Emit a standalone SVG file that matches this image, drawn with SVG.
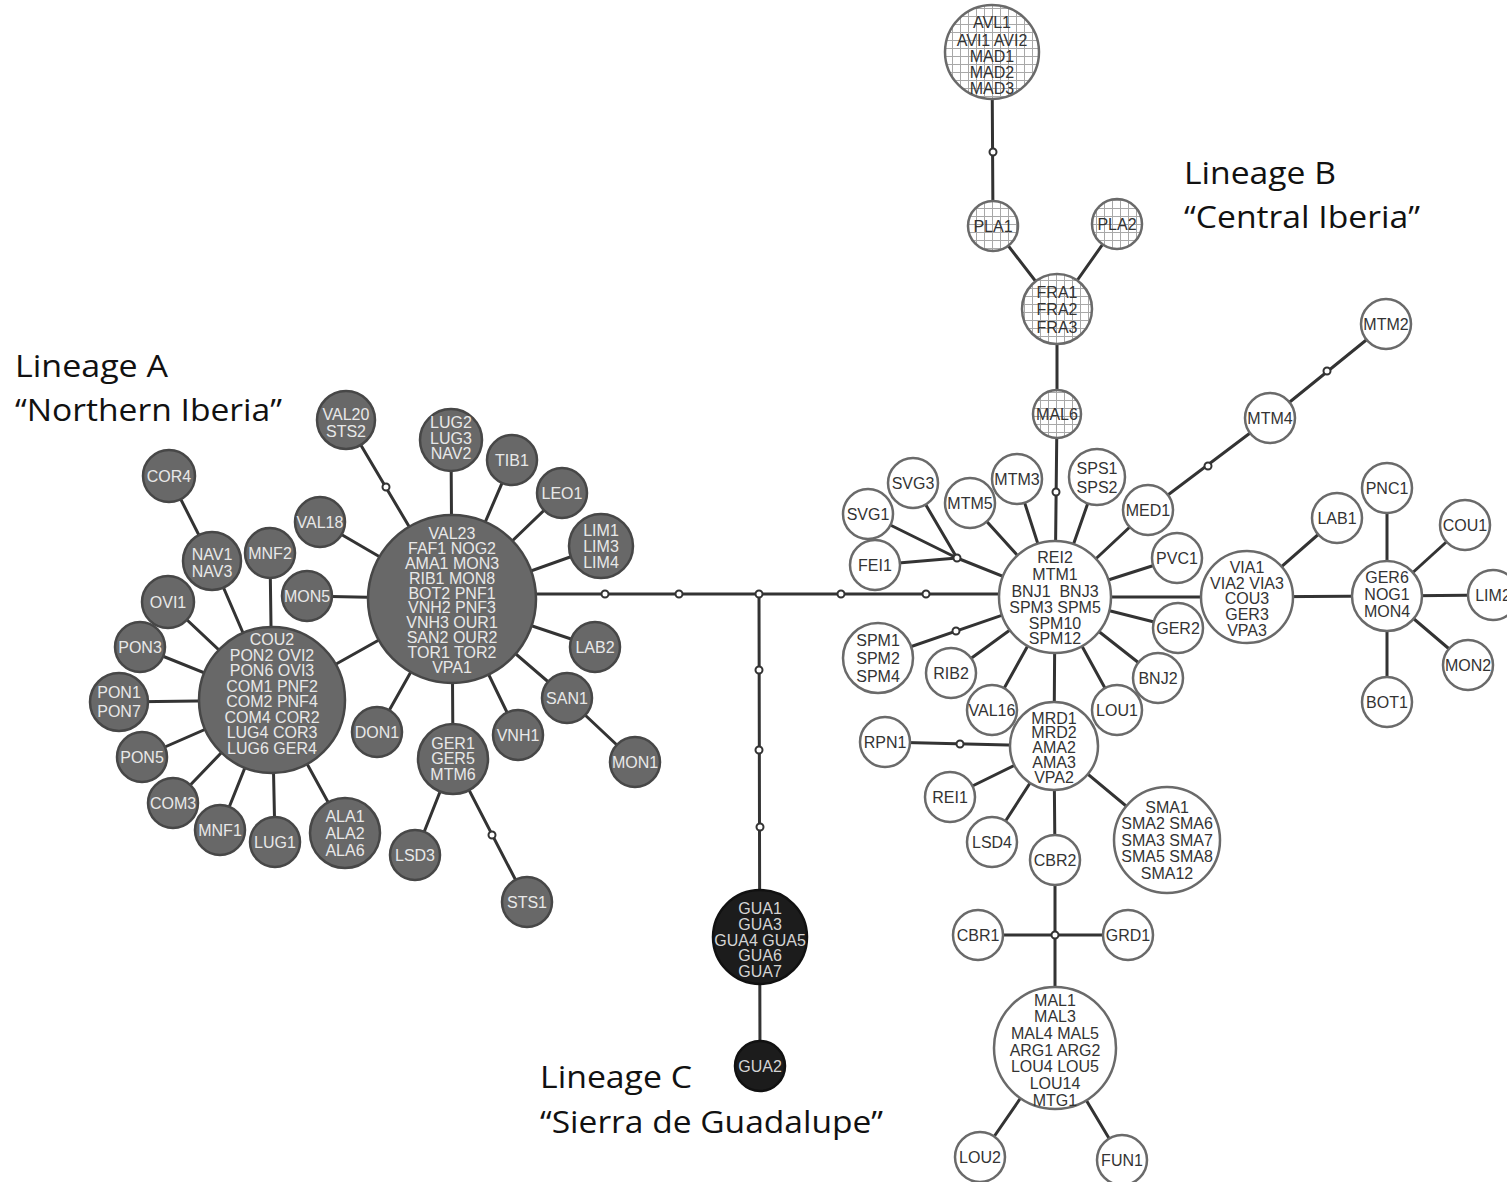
<svg xmlns="http://www.w3.org/2000/svg" width="1507" height="1182" viewBox="0 0 1507 1182">
<defs>
<pattern id="grid" width="8" height="8" patternUnits="userSpaceOnUse" x="0" y="0">
<rect width="8" height="8" fill="#fff"/>
<path d="M0 0.5H8M0.5 0V8" stroke="#a8a8a8" stroke-width="1" fill="none"/>
</pattern>
</defs>
<style>
.edges line{stroke:#333;stroke-width:3;stroke-linecap:round}
.med circle{fill:#fff;stroke:#333;stroke-width:2}
text{font-family:"Liberation Sans",Arial,sans-serif;font-size:16px;text-anchor:middle}
.a circle{fill:#686868;stroke:#474747;stroke-width:2.5}
.a text{fill:#e8e8e8}
.b circle{fill:#fff;stroke:#6a6a6a;stroke-width:2.5}
.b text{fill:#333}
.g circle{fill:url(#grid);stroke:#6a6a6a;stroke-width:2.5}
.g text{fill:#333}
.c circle{fill:#1c1c1c;stroke:#111;stroke-width:2.5}
.c text{fill:#d4d4d4}
.lab text{font-family:"Open Sans","Noto Sans",sans-serif;font-size:31px;text-anchor:start;fill:#111}
</style>
<rect width="1507" height="1182" fill="#fff"/>
<g id="connectors" class="edges">
<line x1="452" y1="599" x2="272" y2="700"/>
<line x1="452" y1="599" x2="346" y2="420"/>
<line x1="452" y1="599" x2="320" y2="522"/>
<line x1="452" y1="599" x2="307" y2="596"/>
<line x1="452" y1="599" x2="451" y2="440"/>
<line x1="452" y1="599" x2="512" y2="460"/>
<line x1="452" y1="599" x2="562" y2="493"/>
<line x1="452" y1="599" x2="601" y2="546"/>
<line x1="452" y1="599" x2="595" y2="647"/>
<line x1="452" y1="599" x2="567" y2="698"/>
<line x1="567" y1="698" x2="635" y2="762"/>
<line x1="452" y1="599" x2="518" y2="735"/>
<line x1="452" y1="599" x2="453" y2="759"/>
<line x1="452" y1="599" x2="377" y2="732"/>
<line x1="453" y1="759" x2="415" y2="855"/>
<line x1="453" y1="759" x2="527" y2="902"/>
<line x1="272" y1="700" x2="212" y2="561"/>
<line x1="212" y1="561" x2="169" y2="476"/>
<line x1="272" y1="700" x2="270" y2="553"/>
<line x1="272" y1="700" x2="168" y2="602"/>
<line x1="272" y1="700" x2="140" y2="647"/>
<line x1="272" y1="700" x2="119" y2="702"/>
<line x1="272" y1="700" x2="142" y2="757"/>
<line x1="272" y1="700" x2="173" y2="803"/>
<line x1="272" y1="700" x2="220" y2="830"/>
<line x1="272" y1="700" x2="275" y2="842"/>
<line x1="272" y1="700" x2="345" y2="833"/>
<line x1="452" y1="594" x2="1055" y2="594"/>
<line x1="759" y1="594" x2="760" y2="1066"/>
<line x1="992" y1="52" x2="993" y2="226"/>
<line x1="993" y1="226" x2="1057" y2="309"/>
<line x1="1117" y1="224" x2="1057" y2="309"/>
<line x1="1057" y1="309" x2="1057" y2="414"/>
<line x1="1057" y1="414" x2="1055" y2="597"/>
<line x1="1055" y1="597" x2="1097" y2="477"/>
<line x1="1055" y1="597" x2="1017" y2="479"/>
<line x1="1055" y1="597" x2="970" y2="503"/>
<line x1="1055" y1="597" x2="957" y2="558"/>
<line x1="957" y1="558" x2="868" y2="514"/>
<line x1="957" y1="558" x2="913" y2="483"/>
<line x1="957" y1="558" x2="875" y2="565"/>
<line x1="1055" y1="597" x2="878" y2="658"/>
<line x1="1055" y1="597" x2="951" y2="673"/>
<line x1="1055" y1="597" x2="992" y2="710"/>
<line x1="1055" y1="597" x2="1054" y2="746"/>
<line x1="1055" y1="597" x2="1117" y2="710"/>
<line x1="1055" y1="597" x2="1158" y2="678"/>
<line x1="1055" y1="597" x2="1178" y2="628"/>
<line x1="1055" y1="597" x2="1247" y2="597"/>
<line x1="1055" y1="597" x2="1177" y2="558"/>
<line x1="1055" y1="597" x2="1148" y2="510"/>
<line x1="1148" y1="510" x2="1270" y2="418"/>
<line x1="1270" y1="418" x2="1386" y2="324"/>
<line x1="1247" y1="597" x2="1337" y2="518"/>
<line x1="1247" y1="597" x2="1387" y2="596"/>
<line x1="1387" y1="596" x2="1387" y2="488"/>
<line x1="1387" y1="596" x2="1465" y2="525"/>
<line x1="1387" y1="596" x2="1493" y2="595"/>
<line x1="1387" y1="596" x2="1468" y2="665"/>
<line x1="1387" y1="596" x2="1387" y2="702"/>
<line x1="1054" y1="746" x2="885" y2="742"/>
<line x1="1054" y1="746" x2="950" y2="797"/>
<line x1="1054" y1="746" x2="992" y2="842"/>
<line x1="1054" y1="746" x2="1055" y2="860"/>
<line x1="1054" y1="746" x2="1167" y2="840"/>
<line x1="1055" y1="860" x2="1055" y2="1048"/>
<line x1="978" y1="935" x2="1128" y2="935"/>
<line x1="1055" y1="1048" x2="980" y2="1157"/>
<line x1="1055" y1="1048" x2="1122" y2="1160"/>
</g>
<g id="medians" class="med">
<circle cx="386" cy="487" r="3.5"/>
<circle cx="492" cy="835" r="3.5"/>
<circle cx="605" cy="594" r="3.5"/>
<circle cx="679" cy="594" r="3.5"/>
<circle cx="759" cy="594" r="3.5"/>
<circle cx="841" cy="594" r="3.5"/>
<circle cx="926" cy="594" r="3.5"/>
<circle cx="759" cy="670" r="3.5"/>
<circle cx="759" cy="750" r="3.5"/>
<circle cx="760" cy="827" r="3.5"/>
<circle cx="993" cy="152" r="3.5"/>
<circle cx="1056" cy="492" r="3.5"/>
<circle cx="957" cy="558" r="3.5"/>
<circle cx="956" cy="631" r="3.5"/>
<circle cx="1208" cy="466" r="3.5"/>
<circle cx="1327" cy="371" r="3.5"/>
<circle cx="960" cy="744" r="3.5"/>
<circle cx="1055" cy="935" r="3.5"/>
</g>
<!-- Lineage A -->
<g id="n-VAL23" class="a"><circle cx="452" cy="599" r="84"/><text><tspan x="452" y="539">VAL23</tspan><tspan x="452" y="554">FAF1  NOG2</tspan><tspan x="452" y="569">AMA1 MON3</tspan><tspan x="452" y="584">RIB1  MON8</tspan><tspan x="452" y="599">BOT2 PNF1</tspan><tspan x="452" y="613">VNH2 PNF3</tspan><tspan x="452" y="628">VNH3 OUR1</tspan><tspan x="452" y="643">SAN2 OUR2</tspan><tspan x="452" y="658">TOR1 TOR2</tspan><tspan x="452" y="673">VPA1</tspan></text></g>
<g id="n-COU2" class="a"><circle cx="272" cy="700" r="73"/><text><tspan x="272" y="645">COU2</tspan><tspan x="272" y="661">PON2 OVI2</tspan><tspan x="272" y="676">PON6 OVI3</tspan><tspan x="272" y="692">COM1 PNF2</tspan><tspan x="272" y="707">COM2 PNF4</tspan><tspan x="272" y="723">COM4 COR2</tspan><tspan x="272" y="738">LUG4 COR3</tspan><tspan x="272" y="754">LUG6 GER4</tspan></text></g>
<g id="n-VAL20" class="a"><circle cx="346" cy="420" r="29"/><text><tspan x="346" y="420">VAL20</tspan><tspan x="346" y="437">STS2</tspan></text></g>
<g id="n-LUG2" class="a"><circle cx="451" cy="440" r="31"/><text><tspan x="451" y="428">LUG2</tspan><tspan x="451" y="444">LUG3</tspan><tspan x="451" y="459">NAV2</tspan></text></g>
<g id="n-TIB1" class="a"><circle cx="512" cy="460" r="25"/><text x="512" y="465.5">TIB1</text></g>
<g id="n-LEO1" class="a"><circle cx="562" cy="493" r="25"/><text x="562" y="498.5">LEO1</text></g>
<g id="n-LIM1" class="a"><circle cx="601" cy="546" r="32"/><text><tspan x="601" y="536">LIM1</tspan><tspan x="601" y="552">LIM3</tspan><tspan x="601" y="568">LIM4</tspan></text></g>
<g id="n-LAB2" class="a"><circle cx="595" cy="647" r="25"/><text x="595" y="652.5">LAB2</text></g>
<g id="n-SAN1" class="a"><circle cx="567" cy="698" r="25"/><text x="567" y="703.5">SAN1</text></g>
<g id="n-MON1" class="a"><circle cx="635" cy="762" r="25"/><text x="635" y="767.5">MON1</text></g>
<g id="n-VNH1" class="a"><circle cx="518" cy="735" r="25"/><text x="518" y="740.5">VNH1</text></g>
<g id="n-GER1" class="a"><circle cx="453" cy="759" r="35"/><text><tspan x="453" y="749">GER1</tspan><tspan x="453" y="764">GER5</tspan><tspan x="453" y="780">MTM6</tspan></text></g>
<g id="n-LSD3" class="a"><circle cx="415" cy="855" r="25"/><text x="415" y="860.5">LSD3</text></g>
<g id="n-STS1" class="a"><circle cx="527" cy="902" r="25"/><text x="527" y="907.5">STS1</text></g>
<g id="n-DON1" class="a"><circle cx="377" cy="732" r="25"/><text x="377" y="737.5">DON1</text></g>
<g id="n-VAL18" class="a"><circle cx="320" cy="522" r="25"/><text x="320" y="527.5">VAL18</text></g>
<g id="n-MON5" class="a"><circle cx="307" cy="596" r="25"/><text x="307" y="601.5">MON5</text></g>
<g id="n-MNF2" class="a"><circle cx="270" cy="553" r="25"/><text x="270" y="558.5">MNF2</text></g>
<g id="n-NAV1" class="a"><circle cx="212" cy="561" r="29"/><text><tspan x="212" y="560">NAV1</tspan><tspan x="212" y="577">NAV3</tspan></text></g>
<g id="n-COR4" class="a"><circle cx="169" cy="476" r="26"/><text x="169" y="481.5">COR4</text></g>
<g id="n-OVI1" class="a"><circle cx="168" cy="602" r="26"/><text x="168" y="607.5">OVI1</text></g>
<g id="n-PON3" class="a"><circle cx="140" cy="647" r="25"/><text x="140" y="652.5">PON3</text></g>
<g id="n-PON1" class="a"><circle cx="119" cy="702" r="29"/><text><tspan x="119" y="698">PON1</tspan><tspan x="119" y="717">PON7</tspan></text></g>
<g id="n-PON5" class="a"><circle cx="142" cy="757" r="25"/><text x="142" y="762.5">PON5</text></g>
<g id="n-COM3" class="a"><circle cx="173" cy="803" r="25"/><text x="173" y="808.5">COM3</text></g>
<g id="n-MNF1" class="a"><circle cx="220" cy="830" r="25"/><text x="220" y="835.5">MNF1</text></g>
<g id="n-LUG1" class="a"><circle cx="275" cy="842" r="25"/><text x="275" y="847.5">LUG1</text></g>
<g id="n-ALA1" class="a"><circle cx="345" cy="833" r="35"/><text><tspan x="345" y="822">ALA1</tspan><tspan x="345" y="839">ALA2</tspan><tspan x="345" y="856">ALA6</tspan></text></g>
<!-- Lineage C -->
<g id="n-GUA1" class="c"><circle cx="760" cy="937" r="47"/><text><tspan x="760" y="914">GUA1</tspan><tspan x="760" y="930">GUA3</tspan><tspan x="760" y="946">GUA4 GUA5</tspan><tspan x="760" y="961">GUA6</tspan><tspan x="760" y="977">GUA7</tspan></text></g>
<g id="n-GUA2" class="c"><circle cx="760" cy="1066" r="25"/><text x="760" y="1071.5">GUA2</text></g>
<!-- Lineage B -->
<g id="n-AVL1" class="g"><circle cx="992" cy="52" r="47"/><text><tspan x="992" y="28">AVL1</tspan><tspan x="992" y="46">AVI1 AVI2</tspan><tspan x="992" y="62">MAD1</tspan><tspan x="992" y="78">MAD2</tspan><tspan x="992" y="94">MAD3</tspan></text></g>
<g id="n-PLA1" class="g"><circle cx="993" cy="226" r="25"/><text x="993" y="231.5">PLA1</text></g>
<g id="n-PLA2" class="g"><circle cx="1117" cy="224" r="25"/><text x="1117" y="229.5">PLA2</text></g>
<g id="n-FRA1" class="g"><circle cx="1057" cy="309" r="35"/><text><tspan x="1057" y="298">FRA1</tspan><tspan x="1057" y="315">FRA2</tspan><tspan x="1057" y="333">FRA3</tspan></text></g>
<g id="n-MAL6" class="g"><circle cx="1057" cy="414" r="24"/><text x="1057" y="419.5">MAL6</text></g>
<g id="n-REI2" class="b"><circle cx="1055" cy="597" r="56"/><text><tspan x="1055" y="563">REI2</tspan><tspan x="1055" y="579.5">MTM1</tspan><tspan x="1055" y="597" xml:space="preserve">BNJ1  BNJ3</tspan><tspan x="1055" y="612.5">SPM3 SPM5</tspan><tspan x="1055" y="628.5">SPM10</tspan><tspan x="1055" y="644">SPM12</tspan></text></g>
<g id="n-SPS1" class="b"><circle cx="1097" cy="477" r="28"/><text><tspan x="1097" y="473.5">SPS1</tspan><tspan x="1097" y="492.5">SPS2</tspan></text></g>
<g id="n-MTM3" class="b"><circle cx="1017" cy="479" r="25"/><text x="1017" y="484.5">MTM3</text></g>
<g id="n-MTM5" class="b"><circle cx="970" cy="503" r="25"/><text x="970" y="508.5">MTM5</text></g>
<g id="n-SVG3" class="b"><circle cx="913" cy="483" r="25"/><text x="913" y="488.5">SVG3</text></g>
<g id="n-SVG1" class="b"><circle cx="868" cy="514" r="25"/><text x="868" y="519.5">SVG1</text></g>
<g id="n-FEI1" class="b"><circle cx="875" cy="565" r="25"/><text x="875" y="570.5">FEI1</text></g>
<g id="n-SPM1" class="b"><circle cx="878" cy="658" r="35"/><text><tspan x="878" y="645.5">SPM1</tspan><tspan x="878" y="663.5">SPM2</tspan><tspan x="878" y="682">SPM4</tspan></text></g>
<g id="n-RIB2" class="b"><circle cx="951" cy="673" r="25"/><text x="951" y="678.5">RIB2</text></g>
<g id="n-VAL16" class="b"><circle cx="992" cy="710" r="25"/><text x="992" y="715.5">VAL16</text></g>
<g id="n-LOU1" class="b"><circle cx="1117" cy="710" r="25"/><text x="1117" y="715.5">LOU1</text></g>
<g id="n-BNJ2" class="b"><circle cx="1158" cy="678" r="25"/><text x="1158" y="683.5">BNJ2</text></g>
<g id="n-GER2" class="b"><circle cx="1178" cy="628" r="25"/><text x="1178" y="633.5">GER2</text></g>
<g id="n-PVC1" class="b"><circle cx="1177" cy="558" r="25"/><text x="1177" y="563.5">PVC1</text></g>
<g id="n-MED1" class="b"><circle cx="1148" cy="510" r="25"/><text x="1148" y="515.5">MED1</text></g>
<g id="n-MTM4" class="b"><circle cx="1270" cy="418" r="25"/><text x="1270" y="423.5">MTM4</text></g>
<g id="n-MTM2" class="b"><circle cx="1386" cy="324" r="25"/><text x="1386" y="329.5">MTM2</text></g>
<g id="n-VIA1" class="b"><circle cx="1247" cy="597" r="46"/><text><tspan x="1247" y="572.5">VIA1</tspan><tspan x="1247" y="588.5">VIA2 VIA3</tspan><tspan x="1247" y="603.5">COU3</tspan><tspan x="1247" y="619.5">GER3</tspan><tspan x="1247" y="635.5">VPA3</tspan></text></g>
<g id="n-LAB1" class="b"><circle cx="1337" cy="518" r="25"/><text x="1337" y="523.5">LAB1</text></g>
<g id="n-GER6" class="b"><circle cx="1387" cy="596" r="35"/><text><tspan x="1387" y="583">GER6</tspan><tspan x="1387" y="600">NOG1</tspan><tspan x="1387" y="617">MON4</tspan></text></g>
<g id="n-PNC1" class="b"><circle cx="1387" cy="488" r="25"/><text x="1387" y="493.5">PNC1</text></g>
<g id="n-COU1" class="b"><circle cx="1465" cy="525" r="25"/><text x="1465" y="530.5">COU1</text></g>
<g id="n-LIM2" class="b"><circle cx="1493" cy="595" r="25"/><text x="1493" y="600.5">LIM2</text></g>
<g id="n-MON2" class="b"><circle cx="1468" cy="665" r="25"/><text x="1468" y="670.5">MON2</text></g>
<g id="n-BOT1" class="b"><circle cx="1387" cy="702" r="25"/><text x="1387" y="707.5">BOT1</text></g>
<g id="n-MRD1" class="b"><circle cx="1054" cy="746" r="44"/><text><tspan x="1054" y="723.5">MRD1</tspan><tspan x="1054" y="738">MRD2</tspan><tspan x="1054" y="753">AMA2</tspan><tspan x="1054" y="768">AMA3</tspan><tspan x="1054" y="783">VPA2</tspan></text></g>
<g id="n-RPN1" class="b"><circle cx="885" cy="742" r="25"/><text x="885" y="747.5">RPN1</text></g>
<g id="n-REI1" class="b"><circle cx="950" cy="797" r="25"/><text x="950" y="802.5">REI1</text></g>
<g id="n-LSD4" class="b"><circle cx="992" cy="842" r="25"/><text x="992" y="847.5">LSD4</text></g>
<g id="n-CBR2" class="b"><circle cx="1055" cy="860" r="25"/><text x="1055" y="865.5">CBR2</text></g>
<g id="n-SMA1" class="b"><circle cx="1167" cy="840" r="53"/><text><tspan x="1167" y="812.5">SMA1</tspan><tspan x="1167" y="829">SMA2 SMA6</tspan><tspan x="1167" y="845.5">SMA3 SMA7</tspan><tspan x="1167" y="862">SMA5 SMA8</tspan><tspan x="1167" y="878.5">SMA12</tspan></text></g>
<g id="n-CBR1" class="b"><circle cx="978" cy="935" r="25"/><text x="978" y="940.5">CBR1</text></g>
<g id="n-GRD1" class="b"><circle cx="1128" cy="935" r="25"/><text x="1128" y="940.5">GRD1</text></g>
<g id="n-MAL1" class="b"><circle cx="1055" cy="1048" r="61"/><text><tspan x="1055" y="1005.5">MAL1</tspan><tspan x="1055" y="1022">MAL3</tspan><tspan x="1055" y="1039">MAL4 MAL5</tspan><tspan x="1055" y="1055.5">ARG1 ARG2</tspan><tspan x="1055" y="1072">LOU4 LOU5</tspan><tspan x="1055" y="1089">LOU14</tspan><tspan x="1055" y="1105.5">MTG1</tspan></text></g>
<g id="n-LOU2" class="b"><circle cx="980" cy="1157" r="25"/><text x="980" y="1162.5">LOU2</text></g>
<g id="n-FUN1" class="b"><circle cx="1122" cy="1160" r="25"/><text x="1122" y="1165.5">FUN1</text></g>
<g id="labels" class="lab">
<text x="15" y="377" textLength="153" lengthAdjust="spacingAndGlyphs">Lineage A</text>
<text x="15" y="421" textLength="267" lengthAdjust="spacingAndGlyphs">“Northern Iberia”</text>
<text x="1184" y="184" textLength="152" lengthAdjust="spacingAndGlyphs">Lineage B</text>
<text x="1184" y="228" textLength="236" lengthAdjust="spacingAndGlyphs">“Central Iberia”</text>
<text x="540" y="1088" textLength="152" lengthAdjust="spacingAndGlyphs">Lineage C</text>
<text x="540" y="1133" textLength="343" lengthAdjust="spacingAndGlyphs">“Sierra de Guadalupe”</text>
</g>
</svg>
